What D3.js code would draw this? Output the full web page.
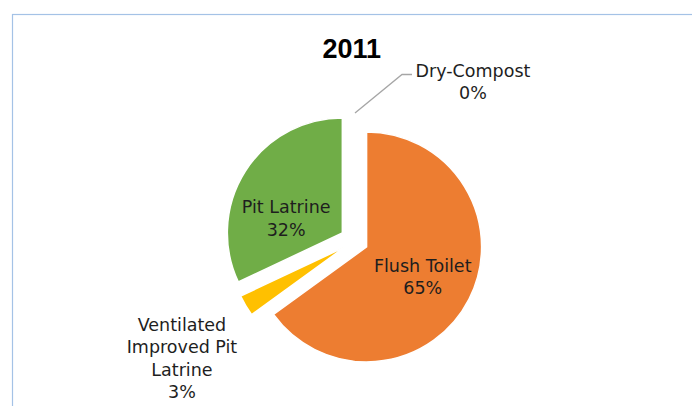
<!DOCTYPE html>
<html>
<head>
<meta charset="utf-8">
<script src="https://cdn.jsdelivr.net/npm/d3@7"></script>
<style>
  html, body { margin: 0; padding: 0; background: #fff; }
  svg { display: block; }
</style>
</head>
<body>
<svg id="chart" width="692" height="406"></svg>
<script>
// Sanitation facility shares, 2011
const title = "2011";
const categories = ["Flush Toilet", "Ventilated Improved Pit Latrine", "Pit Latrine", "Dry-Compost"];
const values = [65, 3, 32, 0];
// Category names broken into the lines they are printed on
const labelLines = [["Flush Toilet"], ["Ventilated", "Improved Pit", "Latrine"], ["Pit Latrine"], ["Dry-Compost"]];

const colors = ["#ED7D31", "#FFC000", "#70AD47", "#A5A5A5"];
const explode = [13, 12, 15, 13];          // px each slice is pulled out
const labelRadius = [63, 196, 63, null];   // inside / outside label distance
const labelNudge = [[0, 1], [6, 11], [-3, 19], [0, 0]];

const W = 692, H = 406;
const cx = 355, cy = 241, R = 115;
const fontFamily = "'DejaVu Sans', sans-serif";
const fontSize = 17.5, lineH = 22.5, capHalf = 0.729 * fontSize / 2;

const svg = d3.select("#chart");

// chart area frame (runs past the window on the right and bottom)
svg.append("rect")
  .attr("x", 12.5).attr("y", 14.5)
  .attr("width", W + 40).attr("height", H + 40)
  .attr("fill", "none").attr("stroke", "#a4c2e6").attr("stroke-width", 1.2);

svg.append("text")
  .attr("x", 351.7).attr("y", 58.3)
  .attr("text-anchor", "middle")
  .style("font-family", "'Liberation Sans', Arial, sans-serif")
  .style("font-weight", "bold").style("font-size", "27px")
  .attr("fill", "#000")
  .text(title);

const total = d3.sum(values);
const pie = d3.pie().sort(null).value(d => d).startAngle(0).endAngle(2 * Math.PI);
const arcs = pie(values);
const arc = d3.arc().innerRadius(0).outerRadius(R);

const g = svg.append("g").attr("transform", `translate(${cx},${cy})`);

function offset(d, i, k) {
  const a = (d.startAngle + d.endAngle) / 2;
  return [k * Math.sin(a), -k * Math.cos(a)];
}

// slices
g.selectAll("path.slice")
  .data(arcs.filter(d => d.value > 0))
  .join("path")
  .attr("class", "slice")
  .attr("d", arc)
  .attr("transform", d => {
    const [dx, dy] = offset(d, d.index, explode[d.index]);
    return `translate(${dx},${dy})`;
  })
  .attr("fill", d => colors[d.index])
  .attr("stroke", "#fff").attr("stroke-width", 1.5)
  .attr("stroke-linejoin", "miter");

function drawLabel(x, y, lines, anchor) {
  const t = g.append("text")
    .attr("text-anchor", anchor)
    .style("font-family", fontFamily).style("font-size", fontSize + "px")
    .attr("fill", "#1e1e1e");
  const y0 = y - (lines.length - 1) * lineH / 2 + capHalf;
  lines.forEach((s, j) => {
    t.append("tspan").attr("x", x).attr("y", y0 + j * lineH).text(s);
  });
  return t;
}

const pct = v => Math.round(v / total * 100) + "%";

arcs.forEach((d, i) => {
  const lines = labelLines[i].concat([pct(d.value)]);
  if (d.value > 0) {
    const [ex, ey] = offset(d, i, explode[i]);
    const [lx, ly] = offset(d, i, labelRadius[i]);
    drawLabel(ex + lx + labelNudge[i][0], ey + ly + labelNudge[i][1], lines, "middle");
  } else {
    // zero-size slice: label sits outside with a leader line
    const [ox, oy] = offset(d, i, R + explode[i]);
    const elbow = [ox + 47, oy - 38.5];
    const end = [elbow[0] + 10, elbow[1]];
    g.append("polyline")
      .attr("points", [[ox, oy], elbow, end].map(p => p.join(",")).join(" "))
      .attr("fill", "none").attr("stroke", "#a6a6a6").attr("stroke-width", 1.3);
    const t = drawLabel(0, end[1] + 7.2, lines, "middle");
    const w = t.node().getBBox().width;
    t.selectAll("tspan").attr("x", end[0] + 3.5 + w / 2);
  }
});
</script>
</body>
</html>
